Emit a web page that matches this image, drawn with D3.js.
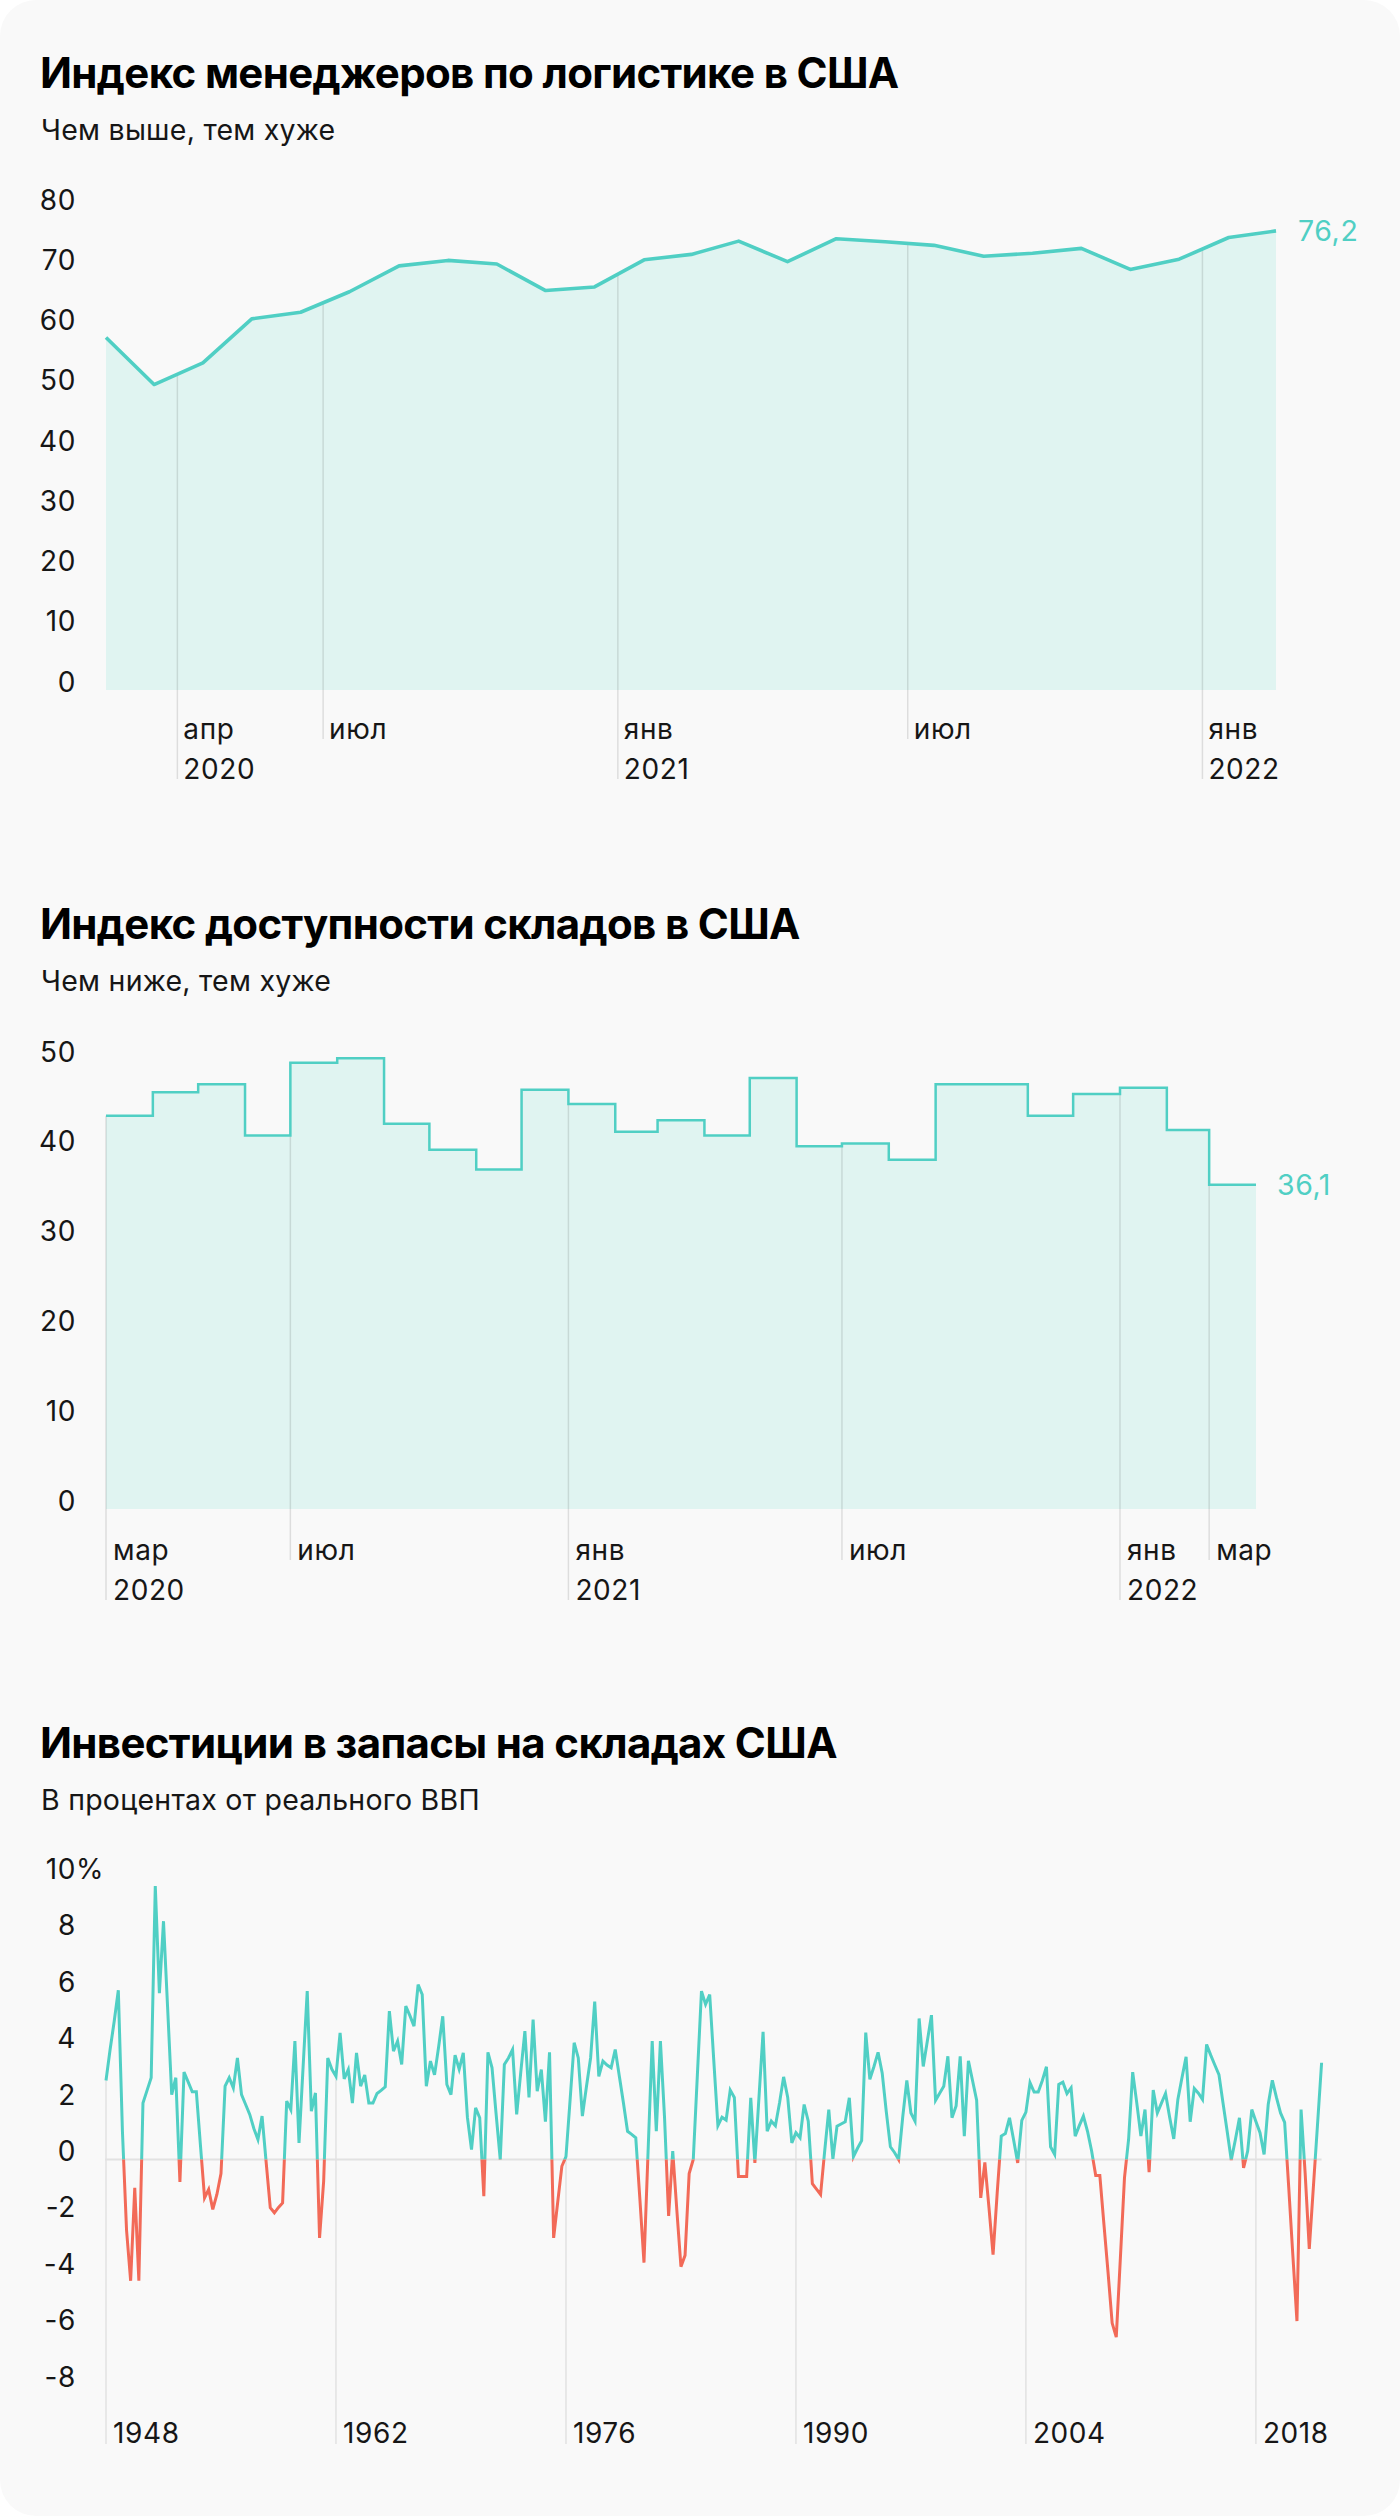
<!DOCTYPE html>
<html><head><meta charset="utf-8">
<script src="https://cdn.jsdelivr.net/npm/d3@7"></script>
<style>
html,body{margin:0;padding:0;background:#fff;}
svg{display:block;}
text{font-family:Inter,"Noto Sans",sans-serif;}
</style></head><body>
<svg id="chart" width="1400" height="2516"></svg>
<script>
// ---------- DATA ----------
const lmiMonths = ["2020-02","2020-03","2020-04","2020-05","2020-06","2020-07","2020-08","2020-09","2020-10","2020-11","2020-12",
  "2021-01","2021-02","2021-03","2021-04","2021-05","2021-06","2021-07","2021-08","2021-09","2021-10","2021-11","2021-12","2022-01","2022-02"];
const lmiValues = [58.5,50.7,54.3,61.6,62.7,66.1,70.4,71.3,70.7,66.3,66.9,71.4,72.3,74.5,71.1,74.9,74.4,73.8,72.0,72.5,73.3,69.8,71.5,75.1,76.2];
const lmiYTicks = [0,10,20,30,40,50,60,70,80];
const lmiXTicks = [["2020-04","апр","2020"],["2020-07","июл",""],["2021-01","янв","2021"],["2021-07","июл",""],["2022-01","янв","2022"]];
const lmiLastLabel = "76,2";

const whMonths = ["2020-03","2020-04","2020-05","2020-06","2020-07","2020-08","2020-09","2020-10","2020-11","2020-12",
  "2021-01","2021-02","2021-03","2021-04","2021-05","2021-06","2021-07","2021-08","2021-09","2021-10","2021-11","2021-12","2022-01","2022-02","2022-03"];
const whValues = [43.8,46.4,47.3,41.6,49.7,50.2,42.9,40.0,37.8,46.7,45.1,42.0,43.3,41.6,48.0,40.4,40.7,38.9,47.3,47.3,43.8,46.2,46.9,42.2,36.1];
const whYTicks = [0,10,20,30,40,50];
const whXTicks = [["2020-03","мар","2020"],["2020-07","июл",""],["2021-01","янв","2021"],["2021-07","июл",""],["2022-01","янв","2022"],["2022-03","мар",""]];
const whLastLabel = "36,1";

const invStartYear = 1948; // quarterly, first quarter 1948
const invValues = [
 2.8,3.9,4.9,6.0,1.0,-2.5,-4.3,-1.0,-4.3,2.0,
 2.45,2.9,9.7,5.9,8.45,5.4,2.3,2.9,-0.8,3.1,
 2.75,2.4,2.4,0.5,-1.36,-1.06,-1.77,-1.24,-0.5,2.6,
 2.9,2.54,3.6,2.3,1.95,1.6,1.1,0.71,1.54,-0.1,
 -1.71,-1.89,-1.7,-1.54,2.07,1.77,4.2,0.59,3.3,5.97,
 1.71,2.36,-2.78,-0.77,3.6,3.2,2.95,4.49,2.86,3.19,
 2.0,3.78,2.6,3.0,2.0,2.0,2.34,2.45,2.58,5.26,
 3.84,4.2,3.37,5.44,5.1,4.73,6.2,5.85,2.6,3.49,
 3.0,4.0,5.08,2.66,2.3,3.7,3.2,3.78,1.5,0.35,
 1.83,1.48,-1.3,3.8,3.25,1.6,0.0,3.37,3.6,3.9,
 1.6,3.1,4.55,2.2,4.96,2.42,3.19,1.34,3.8,-2.78,
 -1.5,-0.24,0.1,2.1,4.14,3.6,1.54,2.6,3.6,5.6,
 2.95,3.49,3.35,3.25,3.9,2.95,2.0,1.0,0.89,0.77,
 -1.4,-3.66,0.3,4.2,1.0,4.2,1.5,-2.0,0.3,-1.8,
 -3.8,-3.4,-0.5,0.0,3.0,5.97,5.5,5.85,3.5,1.2,
 1.5,1.4,2.46,2.2,-0.6,-0.6,-0.6,2.19,-0.12,2.2,
 4.53,1.0,1.36,1.2,2.0,2.93,2.2,0.59,0.95,0.77,
 1.95,1.36,-0.86,-1.05,-1.24,0.3,1.77,0.02,1.18,1.26,
 1.34,2.19,0.1,0.4,0.67,4.5,2.84,3.3,3.8,3.07,
 1.7,0.45,0.25,0.0,1.5,2.8,1.65,1.36,5.0,3.3,
 4.2,5.12,2.1,2.35,2.6,3.66,1.48,1.9,3.66,0.83,
 3.5,2.8,2.1,-1.36,-0.1,-1.7,-3.37,-1.2,0.83,0.92,
 1.48,0.7,-0.12,1.39,1.68,2.72,2.39,2.39,2.8,3.29,
 0.45,0.18,2.66,2.74,2.34,2.54,0.83,1.2,1.54,1.0,
 0.3,-0.57,-0.57,-2.3,-4.0,-5.8,-6.3,-3.5,-0.65,0.71,
 3.1,2.0,0.83,1.77,-0.45,2.46,1.65,2.0,2.34,1.5,
 0.73,2.13,2.9,3.64,1.34,2.52,2.35,2.13,4.08,3.7,
 3.35,3.01,2.0,1.0,-0.02,0.7,1.48,-0.3,0.3,1.77,
 1.35,0.95,0.18,1.95,2.81,2.2,1.65,1.32,-1.0,-3.4,
 -5.73,1.77,-0.5,-3.17,-0.97,1.23,3.43
];
const invYTicks = [-8,-6,-4,-2,0,2,4,6,8,10];
const invXTicks = [1948,1962,1976,1990,2004,2018];

const titles = ["Индекс менеджеров по логистике в США","Индекс доступности складов в США","Инвестиции в запасы на складах США"];
const subtitles = ["Чем выше, тем хуже","Чем ниже, тем хуже","В процентах от реального ВВП"];

// ---------- STYLE ----------
const W=1400,H=2516;
const TEAL="#50cfc4", FILL="#e0f4f1", RED="#f26a58", TICK="rgba(0,0,0,0.11)", TXT="#161616";
const FS=28, LS=0.6;

const svg=d3.select("#chart");
svg.append("rect").attr("width",W).attr("height",H).attr("rx",36).attr("fill","#f9f9f9");

function label(x,y,txt,extra){
  const t=svg.append("text").attr("x",x).attr("y",y).attr("font-size",FS).attr("letter-spacing",LS).attr("fill",TXT).text(txt);
  return t;
}
function heading(yBase,i){
  svg.append("text").attr("x",40).attr("y",yBase).attr("font-size",42).attr("font-weight",700)
    .attr("fill","#000").attr("letter-spacing","-0.65").text(titles[i]);
  svg.append("text").attr("x",41).attr("y",yBase+52).attr("font-size",28.5).attr("letter-spacing","0.25").attr("fill",TXT).text(subtitles[i]);
}
function yAxis(scale, ticks, fmt){
  const g=svg.append("g").attr("transform","translate(76,0)")
    .call(d3.axisLeft(scale).tickValues(ticks).tickSize(0).tickPadding(0).tickFormat(fmt||(d=>String(d))));
  g.select(".domain").remove();
  g.selectAll("text").attr("dy",1).attr("font-size",FS).attr("letter-spacing",LS).attr("fill",TXT)
    .attr("font-family","Inter, 'Noto Sans', sans-serif");
  return g;
}
const parseM=d3.timeParse("%Y-%m");
const midMonth=m=>{const s=parseM(m),e=d3.timeMonth.offset(s,1);return new Date((+s + +e)/2);};

// ---------- CHART 1 ----------
heading(88,0);
const lmi=lmiMonths.map((m,i)=>({date:midMonth(m),v:lmiValues[i]}));
const x1=d3.scaleTime().domain([lmi[0].date,lmi[lmi.length-1].date]).range([106,1276]);
const y1=d3.scaleLinear().domain([0,80]).range([690,208]);
svg.append("path").datum(lmi).attr("fill",FILL)
  .attr("d",d3.area().x(d=>x1(d.date)).y0(y1(0)).y1(d=>y1(d.v)));
const bis=d3.bisector(d=>d.date).left;
function lmiAt(date){
  const i=bis(lmi,date); if(i<=0) return lmi[0].v; if(i>=lmi.length) return lmi[lmi.length-1].v;
  const a=lmi[i-1],b=lmi[i],t=(date-a.date)/(b.date-a.date); return a.v+(b.v-a.v)*t;
}
lmiXTicks.forEach(([m,mon,yr])=>{
  const d=parseM(m),x=x1(d)-1.5;
  svg.append("line").attr("x1",x).attr("x2",x).attr("y1",y1(lmiAt(d))).attr("y2",yr?779:739)
    .attr("stroke",TICK).attr("stroke-width",1.5);
  label(x+6,739,mon);
  if(yr) label(x+6,779,yr);
});
svg.append("path").datum(lmi).attr("fill","none").attr("stroke",TEAL).attr("stroke-width",3.6)
  .attr("stroke-linejoin","round").attr("d",d3.line().x(d=>x1(d.date)).y(d=>y1(d.v)));
yAxis(y1,lmiYTicks);
svg.append("text").attr("x",x1(lmi[lmi.length-1].date)+22).attr("y",y1(lmi[lmi.length-1].v)+10)
  .attr("font-size",28.5).attr("letter-spacing",LS).attr("fill",TEAL).text(lmiLastLabel);

// ---------- CHART 2 ----------
heading(939,1);
const wh=whMonths.map((m,i)=>({date:parseM(m),v:whValues[i]}));
const whEnd=d3.timeMonth.offset(wh[wh.length-1].date,1);
const whStep=wh.concat([{date:whEnd,v:wh[wh.length-1].v}]);
const x2=d3.scaleTime().domain([wh[0].date,whEnd]).range([106,1256]);
const y2=d3.scaleLinear().domain([0,50]).range([1509,1060]);
svg.append("path").datum(whStep).attr("fill",FILL)
  .attr("d",d3.area().curve(d3.curveStepAfter).x(d=>x2(d.date)).y0(y2(0)).y1(d=>y2(d.v)));
whXTicks.forEach(([m,mon,yr])=>{
  const d=parseM(m),x=x2(d);
  const rec=wh.find(r=>+r.date===+d);
  svg.append("line").attr("x1",x).attr("x2",x).attr("y1",y2(rec.v)).attr("y2",yr?1600:1560)
    .attr("stroke",TICK).attr("stroke-width",1.5);
  label(x+7,1560,mon);
  if(yr) label(x+7,1600,yr);
});
svg.append("path").datum(whStep).attr("fill","none").attr("stroke",TEAL).attr("stroke-width",2.5)
  .attr("d",d3.line().curve(d3.curveStepAfter).x(d=>x2(d.date)).y(d=>y2(d.v)));
yAxis(y2,whYTicks);
svg.append("text").attr("x",x2(whEnd)+21).attr("y",y2(wh[wh.length-1].v)+10)
  .attr("font-size",28.5).attr("letter-spacing",LS).attr("fill",TEAL).text(whLastLabel);

// ---------- CHART 3 ----------
heading(1758,2);
const inv=invValues.map((v,i)=>({t:invStartYear+i/4,v}));
const x3=d3.scaleLinear().domain([1948,2022]).range([106,1321.6]);
const y3=d3.scaleLinear().domain([0,10]).range([2159.5,1877.5]);
svg.append("line").attr("x1",x3(inv[0].t)-1).attr("x2",x3(inv[inv.length-1].t)).attr("y1",y3(0)).attr("y2",y3(0))
  .attr("stroke","#e2e2e2").attr("stroke-width",2);
invXTicks.forEach(yr=>{
  const x=x3(yr); const rec=inv.find(r=>r.t===yr);
  svg.append("line").attr("x1",x).attr("x2",x).attr("y1",y3(Math.max(0,rec.v))).attr("y2",2444)
    .attr("stroke","#e2e2e2").attr("stroke-width",1.5);
  label(x+7,2443,yr);
});
const defs=svg.append("defs");
defs.append("clipPath").attr("id","above").append("rect").attr("x",0).attr("y",0).attr("width",W).attr("height",y3(0));
defs.append("clipPath").attr("id","below").append("rect").attr("x",0).attr("y",y3(0)).attr("width",W).attr("height",H-y3(0));
const invLine=d3.line().x(d=>x3(d.t)).y(d=>y3(d.v));
svg.append("path").datum(inv).attr("clip-path","url(#above)").attr("fill","none").attr("stroke",TEAL).attr("stroke-width",3).attr("d",invLine);
svg.append("path").datum(inv).attr("clip-path","url(#below)").attr("fill","none").attr("stroke",RED).attr("stroke-width",3).attr("d",invLine);
yAxis(y3,invYTicks);
// percent sign after the top tick
svg.append("text").attr("x",76).attr("y",y3(10)+1).attr("font-size",FS).attr("letter-spacing",LS).attr("fill",TXT).text("%");
</script>
</body></html>
